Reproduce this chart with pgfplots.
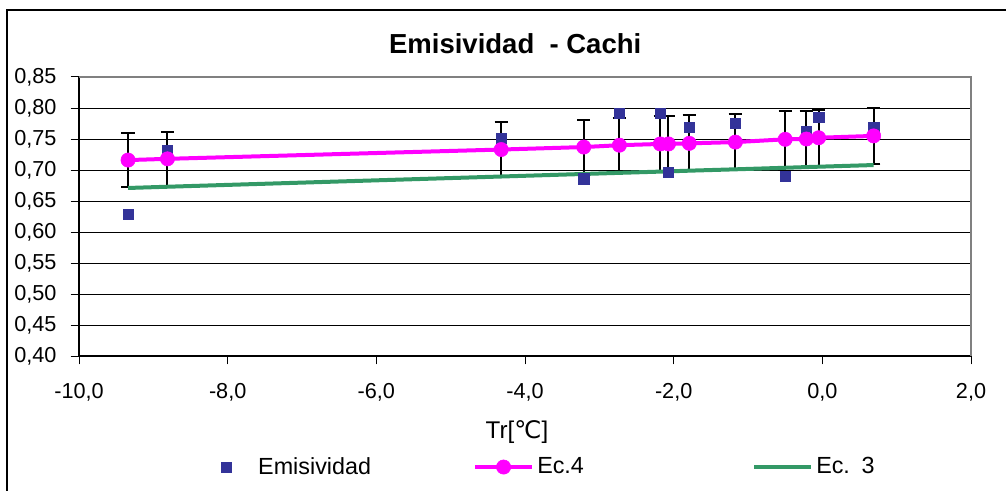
\documentclass[border=0pt]{standalone}
\usepackage{fontspec}
\setmainfont{Liberation Sans}
\newfontfamily\dejavu{DejaVu Sans}
\usepackage{pgfplots}
\pgfplotsset{compat=1.18}
\definecolor{emiblue}{RGB}{51,51,153}
\definecolor{ecpink}{RGB}{255,0,255}
\definecolor{ecgreen}{RGB}{51,153,102}

% Tr, Emisividad medida, Ec.4, error (+-6%), Ec.3
\pgfplotstableread{
x      emi    ecc    err    ecg
-9.34  0.629  0.716  0.043  0.671
-8.81  0.732  0.718  0.043  0.673
-4.32  0.751  0.733  0.044  0.6895
-3.21  0.686  0.737  0.044  0.6936
-2.73  0.791  0.740  0.044  0.6954
-2.18  0.791  0.742  0.045  0.6974
-2.07  0.696  0.742  0.045  0.6978
-1.79  0.769  0.743  0.045  0.6989
-1.17  0.775  0.745  0.045  0.7011
-0.50  0.690  0.7495 0.045  0.7036
-0.215 0.763  0.750  0.045  0.7047
-0.05  0.785  0.752  0.045  0.7053
0.69   0.768  0.755  0.045  0.708
}\datos

\begin{document}
\begin{tikzpicture}
\begin{axis}[
    scale only axis,
    width=535.2pt, height=167.4pt,
    xmin=-10, xmax=2, ymin=0.40, ymax=0.85,
    xtick={-10,-8,-6,-4,-2,0,2},
    ytick={0.40,0.45,0.50,0.55,0.60,0.65,0.70,0.75,0.80,0.85},
    tick align=outside, major tick length=5pt,
    tick style={black, line width=0.6pt},
    axis x line*=bottom, axis y line*=left,
    axis line style={black, line width=0.9pt, -},
    ymajorgrids, grid style={black, line width=0.6pt},
    /pgf/number format/assume math mode=true,
    /pgf/number format/use comma,
    /pgf/number format/fixed,
    /pgf/number format/fixed zerofill,
    xticklabel style={/pgf/number format/precision=1, yshift=-8pt},
    yticklabel style={/pgf/number format/precision=2, xshift=-5pt},
    ticklabel style={font=\fontsize{13}{15}\selectfont},
    title={Emisividad\ \ - Cachi},
    title style={at={(0.489,1.083)}, anchor=center, font=\bfseries\fontsize{16.5}{19}\selectfont},
    xlabel={Tr[{\dejavu ℃}]},
    xlabel style={at={(0.491,-0.272)}, anchor=center, font=\fontsize{14.5}{16}\selectfont},
    legend columns=3,
    legend cell align=left,
    legend style={at={(0.152,-0.398)}, anchor=west, draw=none, fill=none,
        font=\fontsize{14}{16}\selectfont,
        nodes={text width=127pt, inner sep=2pt, align=left}},
    clip=false,
]
\draw[gray, line width=0.9pt] (rel axis cs:0,1) -- (rel axis cs:1,1) -- (rel axis cs:1,0);

% barras de error (6%)
\addplot[draw=none, mark=none, forget plot,
    error bars/.cd, y dir=both, y explicit,
    error bar style={black, line width=1.2pt},
    error mark options={black, line width=1.2pt, mark size=4pt, rotate=90}]
    table[x=x, y=ecc, y error=err] {\datos};

\addplot[ecgreen, line width=2.4pt, mark=none, forget plot]
    table[x=x, y=ecg] {\datos};

\addplot[only marks, mark=square*, mark size=3.1pt, emiblue, mark options={draw=emiblue, fill=emiblue, line width=0.3pt},
    legend image code/.code={\path[draw=none] (-4pt,0pt) (17pt,0pt); \draw plot coordinates {(0pt,0pt)};}]
    table[x=x, y=emi] {\datos};
\addlegendentry{Emisividad}

\addplot[ecpink, line width=2.4pt, mark=*, mark size=4.3pt, mark options={fill=ecpink, draw=ecpink, line width=0.3pt},
    legend image code/.code={\draw[mark repeat=2, mark phase=2] plot coordinates {(0pt,0pt) (17pt,0pt) (34pt,0pt)};}]
    table[x=x, y=ecc] {\datos};
\addlegendentry{Ec.4}

\addlegendimage{ecgreen, line width=2.4pt, mark=none,
    legend image code/.code={\draw plot coordinates {(0pt,0pt) (34pt,0pt)};}}
\addlegendentry{Ec. 3}
\end{axis}
\draw[black, line width=0.9pt] (-43.2pt,-90pt) rectangle (570pt,207.6pt);
\pgfresetboundingbox
\useasboundingbox (-47.4pt,-80.4pt) rectangle (556.2pt,213.6pt);
\end{tikzpicture}
\end{document}
